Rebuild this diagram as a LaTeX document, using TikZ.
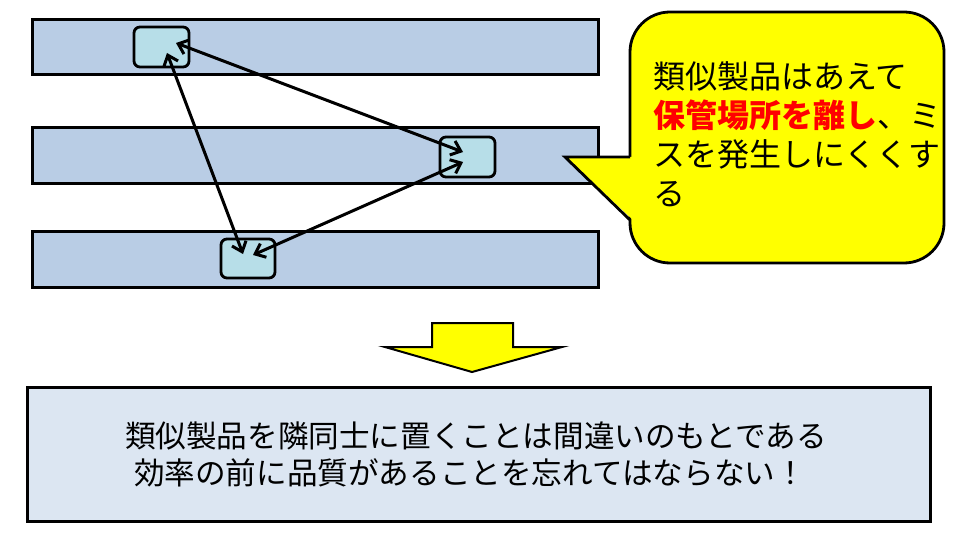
\documentclass[tikz,border=0pt]{standalone}
\usepackage{fontspec}
\newfontfamily\jp{Noto Sans CJK JP}
\usetikzlibrary{arrows.meta}
\definecolor{barblue}{HTML}{B9CDE5}
\definecolor{slotblue}{HTML}{B7DEE8}
\definecolor{notefill}{HTML}{FFFF00}
\definecolor{sumfill}{HTML}{DCE6F2}
\definecolor{hot}{HTML}{FF0000}
\begin{document}
\begin{tikzpicture}[x=1pt,y=-1pt,
  shelf/.style={draw=black,line width=3pt,fill=barblue},
  slot/.style={draw=black,line width=2.8pt,fill=slotblue,rounded corners=6pt},
  link/.style={line width=3pt,{Straight Barb[length=9pt,width=15pt,line width=3pt]}-{Straight Barb[length=9pt,width=15pt,line width=3pt]}},
  jptext/.style={font=\jp\fontsize{30.6}{38}\selectfont,inner sep=0pt}]
\useasboundingbox (0,0) rectangle (965,537);

% three shelves
\draw[shelf] (32,20) rectangle (598,75);
\draw[shelf] (32,128) rectangle (598,184);
\draw[shelf] (32,231) rectangle (598,287);

% product slots
\draw[slot] (134,27) rectangle (189,67);
\draw[slot] (440,137) rectangle (495,177);
\draw[slot] (221,239) rectangle (275,278);

\coordinate (p1a) at (176,43);
\coordinate (p1b) at (167,53);
\coordinate (p2a) at (463,152);
\coordinate (p2b) at (463,162);
\coordinate (p3a) at (243,254);
\coordinate (p3b) at (253,255);

\draw[link] (p1a) -- (p2a);
\draw[link] (p1b) -- (p3a);
\draw[link] (p2b) -- (p3b);

% speech balloon
\draw[line width=2.8pt,fill=notefill,rounded corners=40pt] (630,12) rectangle (944,263);
\fill[notefill] (565,157) -- (633,157) -- (633,220) -- cycle;
\draw[line width=2.8pt,line join=miter] (630,157) -- (565,157) -- (630,220);
\node[jptext,anchor=north west,align=left,font=\jp\fontsize{32}{39}\selectfont] (note) at (653,61)
  {類似製品はあえて\\{\bfseries\color{hot}保管場所を離し}、ミ\\スを発生しにくくす\\る};

% block arrow down
\draw[line width=2pt,fill=notefill,line join=miter] (432,323) -- (513,323) -- (513,347) -- (562,347)
  -- (472,372) -- (385,347) -- (432,347) -- cycle;

% conclusion box
\node[draw=black,line width=3pt,fill=sumfill,minimum width=903pt,minimum height=134pt,anchor=north west,inner sep=0pt] (sum) at (26,386) {};
\node[jptext] (l1) at (476,436) {類似製品を隣同士に置くことは間違いのもとである};
\node[jptext] (l2) at (470,473) {効率の前に品質があることを忘れてはならない！};
\end{tikzpicture}
\end{document}
